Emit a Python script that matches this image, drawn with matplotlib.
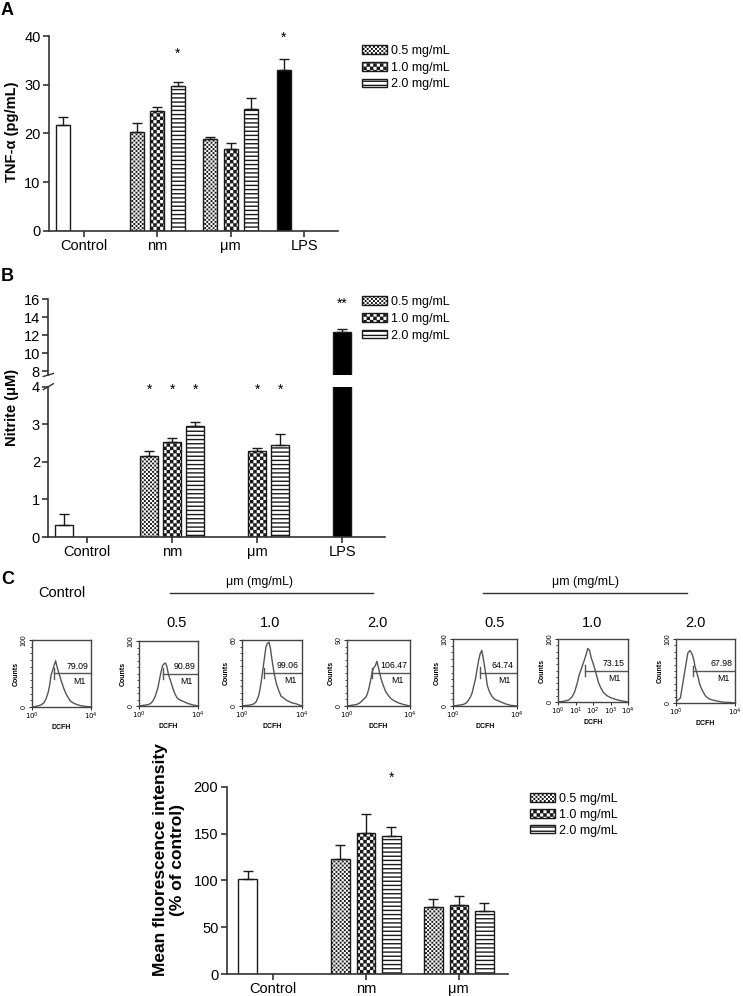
import warnings
import numpy as np
import matplotlib
matplotlib.use('Agg')
import matplotlib.pyplot as plt
import matplotlib.hatch as mhatch
from matplotlib.path import Path
from matplotlib.patches import Patch
from matplotlib.lines import Line2D
from matplotlib.ticker import MultipleLocator, LogLocator, NullFormatter

warnings.filterwarnings('ignore')

# ---------------- data ----------------
conc_labels = ['0.5 mg/mL', '1.0 mg/mL', '2.0 mg/mL']

# A: TNF-alpha (pg/mL)
groups_a = ['Control', 'nm', 'μm', 'LPS']
control_a, control_a_err = 21.7, 1.7
nm_a = [20.4, 24.6, 29.7]
nm_a_err = [1.7, 0.8, 0.9]
um_a = [18.9, 16.8, 25.1]
um_a_err = [0.4, 1.2, 2.2]
lps_a, lps_a_err = 33.1, 2.1

# B: nitrite (uM)
groups_b = ['Control', 'nm', 'μm', 'LPS']
control_b, control_b_err = 0.33, 0.29
nm_b = [2.15, 2.52, 2.96]
nm_b_err = [0.13, 0.11, 0.09]
um_b = [np.nan, 2.28, 2.46]
um_b_err = [np.nan, 0.10, 0.29]
lps_b, lps_b_err = 12.4, 0.3

# C: mean fluorescence intensity (% of control)
groups_c = ['Control', 'nm', 'μm']
control_c, control_c_err = 101.5, 8.5
nm_c = [122.5, 151.0, 147.5]
nm_c_err = [15.0, 19.5, 9.5]
um_c = [72.0, 74.0, 67.5]
um_c_err = [8.5, 9.0, 8.5]

# flow cytometry histograms (log10 DCFH grid, counts per panel)
hist_titles = ['Control', '0.5', '1.0', '2.0', '0.5', '1.0', '2.0']
hist_log_dcfh = [0, 0.3, 0.6, 0.8, 0.95, 1.1, 1.2, 1.3, 1.4, 1.5, 1.6, 1.7,
                 1.8, 1.9, 2.0, 2.15, 2.3, 2.45, 2.6, 2.8, 3.0, 3.3, 3.6, 4.0]
hist_counts = [
    [0, 1, 3, 6, 12, 22, 33, 48, 55, 62, 69, 60, 52, 45, 38, 28, 20, 14, 9, 6, 4, 2, 1, 0],
    [0, 1, 2, 4, 8, 15, 22, 30, 42, 53, 62, 65, 66, 60, 48, 38, 27, 18, 12, 9, 7, 4, 2, 0],
    [0, 0.5, 1, 2, 4, 9, 15, 24, 34, 44, 54, 57, 58, 52, 42, 29, 20, 14, 9, 7, 5, 3, 2, 0],
    [0, 1, 2, 4, 7, 10, 12, 17, 25, 35, 47, 52, 55, 61, 52, 38, 28, 20, 15, 10, 7, 4, 2, 0],
    [0, 1, 2, 4, 8, 14, 20, 30, 40, 54, 68, 78, 83, 70, 55, 30, 20, 14, 10, 8, 6, 3, 1, 0],
    [0, 1, 3, 8, 16, 30, 42, 50, 58, 66, 75, 85, 82, 70, 62, 48, 32, 22, 15, 10, 7, 4, 2, 0],
    [2, 8, 50, 78, 82, 76, 68, 56, 48, 40, 30, 24, 19, 15, 11, 8, 6, 5, 4, 3, 2, 1, 1, 0],
]
hist_ymax = [100, 100, 60, 90, 100, 100, 100]
gate_start_log = [1.49, 1.6, 1.45, 1.6, 1.7, 1.52, 1.15]
gate_values = ['79.09', '90.89', '99.06', '106.47', '64.74', '73.15', '67.98']

# ---------------- style ----------------
plt.rcParams['font.family'] = ['Liberation Sans', 'DejaVu Sans']
plt.rcParams['hatch.linewidth'] = 1.0
EDGE = '#1a1a1a'
W, H = 743, 996


class CheckerHatch(mhatch.HatchPatternBase):
    # 'c' in a hatch string draws a filled checkerboard
    char, pad = 'c', 0.006

    def __init__(self, hatch, density):
        self.n = int(hatch.count(self.char) * density)
        self.n += self.n % 2
        self.num_vertices = 5 * (self.n * self.n // 2)

    def set_vertices_and_codes(self, vertices, codes):
        s = 1.0 / self.n
        k = 0
        for i in range(self.n):
            for j in range(self.n):
                if (i + j) % 2:
                    continue
                x0, y0 = i * s + self.pad, j * s + self.pad
                x1, y1 = (i + 1) * s - self.pad, (j + 1) * s - self.pad
                vertices[k:k + 5] = [(x0, y0), (x1, y0), (x1, y1), (x0, y1), (x0, y0)]
                codes[k:k + 5] = [Path.MOVETO, Path.LINETO, Path.LINETO,
                                  Path.LINETO, Path.CLOSEPOLY]
                k += 5


class DotHatch(CheckerHatch):
    # 'd': finer, lighter dot texture
    char, pad = 'd', 0.0078


mhatch._hatch_types.append(CheckerHatch)
mhatch._hatch_types.append(DotHatch)
conc_hatches = ['d' * 8, 'c' * 5, '----']

fig = plt.figure(figsize=(W / 100, H / 100), dpi=100)


def add_ax(left, top, right, bottom):
    return fig.add_axes([left / W, 1 - bottom / H, (right - left) / W, (bottom - top) / H])


def draw_bars(ax, x, h, err, width, face='white', hatch=None):
    x, h, err = np.atleast_1d(x), np.atleast_1d(h), np.atleast_1d(err)
    ok = ~np.isnan(h)
    x, h, err = x[ok], h[ok], err[ok]
    ax.bar(x, h, width, color=face, edgecolor=EDGE, hatch=hatch, linewidth=1.0, zorder=2)
    ax.errorbar(x, h, yerr=[np.zeros_like(err), err], fmt='none', ecolor=EDGE,
                elinewidth=1.0, capsize=3.5, capthick=1.0, zorder=3)


def style_axes(ax):
    ax.spines[['top', 'right']].set_visible(False)
    ax.spines[['left', 'bottom']].set_linewidth(1.2)
    ax.spines[['left', 'bottom']].set_color('#333333')
    ax.tick_params(direction='out', length=4, width=1.2, color='#333333',
                   labelsize=10.5, pad=2)


def draw_grouped(ax, control, control_err, nm, nm_err, um, um_err, off, width):
    draw_bars(ax, -off, control, control_err, width)
    for k in range(3):
        draw_bars(ax, [1 + (k - 1) * off, 2 + (k - 1) * off], [nm[k], um[k]],
                  [nm_err[k], um_err[k]], width, hatch=conc_hatches[k])


def add_legend(ax, x_px, y_px, spacing):
    handles = [Patch(facecolor='white', edgecolor=EDGE, hatch=h, label=l)
               for h, l in zip(conc_hatches, conc_labels)]
    ax.legend(handles=handles, loc='upper left', bbox_to_anchor=(x_px / W, 1 - y_px / H),
              bbox_transform=fig.transFigure, frameon=False, fontsize=9,
              handlelength=2.0, handleheight=0.65, handletextpad=0.3,
              labelspacing=spacing, borderpad=0, borderaxespad=0)


# ---------------- panel A ----------------
off_a, w_a = 0.28, 0.19
ax_a = add_ax(49, 36, 338, 231)
draw_grouped(ax_a, control_a, control_a_err, nm_a, nm_a_err, um_a, um_a_err, off_a, w_a)
draw_bars(ax_a, 3 - off_a, lps_a, lps_a_err, w_a, face='black')
ax_a.set_ylim(0, 40)
ax_a.set_xlim(-0.477, 3.46)
ax_a.set_yticks([0, 10, 20, 30, 40])
ax_a.set_xticks(range(len(groups_a)), groups_a)
style_axes(ax_a)
ax_a.text(1 + off_a, 36.3, '*', ha='center', va='center', fontsize=10)
ax_a.text(3 - off_a, 39.6, '*', ha='center', va='center', fontsize=10, clip_on=False)
add_legend(ax_a, 362, 45, 0.38)
fig.text(12 / W, 1 - 132 / H, 'TNF-α (pg/mL)', rotation=90, ha='center', va='center',
         fontsize=10.5, fontweight='bold')
fig.text(1 / W, 1 - 2 / H, 'A', ha='left', va='top', fontsize=13, fontweight='bold')

# ---------------- panel B (broken axis) ----------------
off_b, w_b = 0.27, 0.21
ax_bt = add_ax(48.3, 299.3, 385, 375)
ax_bb = add_ax(48.3, 386.7, 385, 537)
for ax in (ax_bt, ax_bb):
    draw_grouped(ax, control_b, control_b_err, nm_b, nm_b_err, um_b, um_b_err, off_b, w_b)
    draw_bars(ax, 3, lps_b, lps_b_err, w_b, face='black')
    ax.set_xlim(-0.455, 3.5)
    style_axes(ax)
ax_bt.set_ylim(7.6, 16)
ax_bt.set_yticks([8, 10, 12, 14, 16])
ax_bt.spines['bottom'].set_visible(False)
ax_bt.tick_params(axis='x', bottom=False, labelbottom=False)
ax_bb.set_ylim(0, 4)
ax_bb.set_yticks([0, 1, 2, 3, 4])
ax_bb.set_xticks(range(len(groups_b)), groups_b)
for ax, yy in ((ax_bt, 0), (ax_bb, 1)):
    ax.plot([-0.015, 0.015], [yy - 0.02, yy + 0.02], transform=ax.transAxes,
            color='#333333', lw=1.0, clip_on=False)
for k in range(3):
    ax_bb.text(1 + (k - 1) * off_b, 3.93, '*', ha='center', va='center', fontsize=10)
for k in (1, 2):
    ax_bb.text(2 + (k - 1) * off_b, 3.93, '*', ha='center', va='center', fontsize=10)
ax_bt.text(3, 15.5, '**', ha='center', va='center', fontsize=10)
add_legend(ax_bb, 362, 296, 0.38)
fig.text(12 / W, 1 - 407 / H, 'Nitrite (μM)', rotation=90, ha='center', va='center',
         fontsize=10.5, fontweight='bold')
fig.text(1 / W, 1 - 268 / H, 'B', ha='left', va='top', fontsize=13, fontweight='bold')

# ---------------- panel C: histograms ----------------
fig.text(1 / W, 1 - 571 / H, 'C', ha='left', va='top', fontsize=13, fontweight='bold')
hist_boxes = [(32, 640, 91, 707), (139, 641, 198, 706), (242, 640, 302, 706),
              (347, 640, 410, 706), (453, 639, 517, 706), (558, 639, 628, 702),
              (676, 639, 735, 703)]
title_x = [62, 177, 270, 377, 495, 592, 695]
for i, box in enumerate(hist_boxes):
    ax = add_ax(*box)
    ymax = hist_ymax[i]
    ax.plot(10 ** np.array(hist_log_dcfh), hist_counts[i], color='#555555', lw=1.0)
    gx = 10 ** gate_start_log[i]
    ax.plot([gx, 1e4], [ymax * 0.5, ymax * 0.5], color='#555555', lw=1.0)
    ax.plot([gx, gx], [ymax * 0.42, ymax * 0.58], color='#555555', lw=1.0)
    ax.set_xscale('log')
    ax.set_xlim(1, 1e4)
    ax.set_ylim(0, ymax)
    ax.text(0.95, 0.54, gate_values[i], transform=ax.transAxes, ha='right', va='bottom',
            fontsize=6.3)
    ax.text(0.8, 0.45, 'M1', transform=ax.transAxes, ha='center', va='top', fontsize=6.3)
    ax.set_yticks([0, ymax])
    ax.set_yticklabels(['0', str(ymax)], rotation=90, va='center')
    ax.yaxis.set_minor_locator(MultipleLocator(ymax / 10))
    if i == 5:
        ax.set_xticks([1, 10, 100, 1e3, 1e4], ['$10^0$', '$10^1$', '$10^2$', '$10^3$', '$10^4$'])
    else:
        ax.set_xticks([1, 1e4], ['$10^0$', '$10^4$'])
    ax.xaxis.set_minor_locator(LogLocator(base=10, subs=np.arange(2, 10)))
    ax.xaxis.set_minor_formatter(NullFormatter())
    for s in ax.spines.values():
        s.set_linewidth(1.0)
        s.set_color('#444444')
    ax.tick_params(which='major', length=2, width=0.6, labelsize=5, pad=1)
    ax.tick_params(which='minor', length=1.2, width=0.5)
    ax.set_ylabel('Counts', fontsize=5, fontweight='bold', labelpad=1)
    ax.set_xlabel('DCFH', fontsize=5, fontweight='bold', labelpad=1)
    fig.text(title_x[i] / W, 1 - (593 if i == 0 else 623) / H, hist_titles[i],
             ha='center', va='center', fontsize=10.5)

for cx, x0, x1 in ((260, 170, 373), (585, 483, 687)):
    fig.text(cx / W, 1 - 582 / H, 'μm (mg/mL)', ha='center', va='center', fontsize=8.8)
    fig.add_artist(Line2D([x0 / W, x1 / W], [1 - 593 / H, 1 - 593 / H], color='#333333', lw=1.0))

# ---------------- panel C: bar chart ----------------
off_c, w_c = 0.275, 0.2
ax_c = add_ax(226.7, 786.7, 508, 974)
draw_grouped(ax_c, control_c, control_c_err, nm_c, nm_c_err, um_c, um_c_err, off_c, w_c)
ax_c.set_ylim(0, 200)
ax_c.set_xlim(-0.5, 2.53)
ax_c.set_yticks([0, 50, 100, 150, 200])
ax_c.set_xticks(range(len(groups_c)), groups_c)
style_axes(ax_c)
ax_c.text(1 + off_c, 209, '*', ha='center', va='center', fontsize=10, clip_on=False)
add_legend(ax_c, 530, 793, 0.3)
fig.text(169 / W, 1 - 860 / H, 'Mean fluorescence intensity\n(% of control)', rotation=90,
         ha='center', va='center', fontsize=12.5, fontweight='bold', linespacing=1.1)

fig.savefig('out.png', dpi=100)
